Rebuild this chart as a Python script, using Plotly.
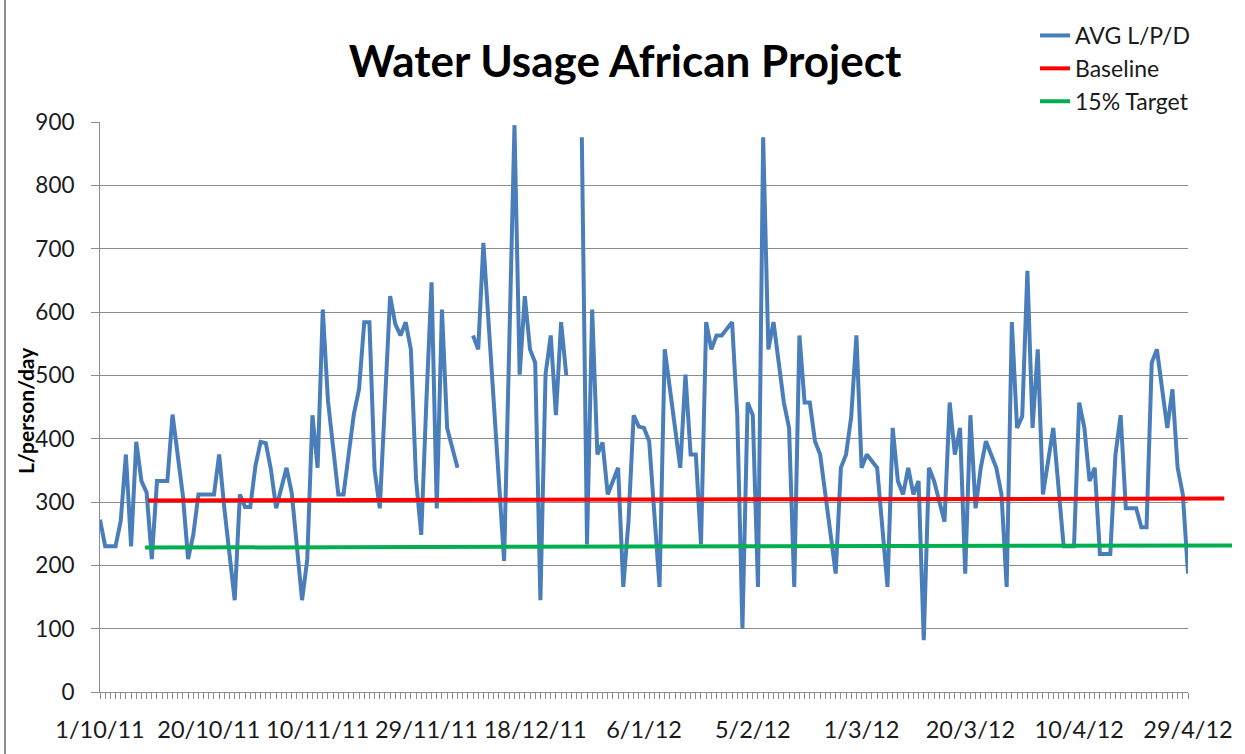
import plotly.graph_objects as go

# ---------------- data ----------------
# day index along the category axis (0 = 1/10/11 ... 210 = 29/4/12); None marks gaps
day_idx = [0, 1, 3, 4, 5, 6, 7, 8, 9, 10, 11, 13, 14, 16, 17, 18, 19, 22, 23, 24,
           26, 27, 28, 29, 30, 31, 32, 33, 34, 36, 37, 39, 40, 41, 42, 43, 44, 46, 47, 48,
           49, 50, 51, 52, 53, 54, 56, 57, 58, 59, 60, 61, 62, 63, 64, 65, 66, 67, 69,
           70,
           72, 73, 74, 78, 80, 81, 82, 83, 84, 85, 86, 87, 88, 89, 90,
           91,
           93, 94, 95, 96, 97, 98, 100, 101, 102, 103, 104, 105, 106, 108, 109, 112, 113,
           114, 115, 116, 117, 118, 119, 120, 122, 123, 124, 125, 126, 127, 128, 129, 130,
           132, 133, 134, 135, 136, 137, 138, 139, 142, 143, 144, 145, 146, 147, 148, 150,
           152, 153, 154, 155, 156, 157, 158, 159, 160, 161, 163, 164, 165, 166, 167, 168,
           169, 170, 171, 173, 174, 175, 176, 177, 178, 179, 180, 181, 182, 184, 185, 186,
           188, 189, 190, 191, 192, 193, 195, 196, 197, 198, 200, 201, 202, 203, 204, 206,
           207, 208, 209, 210]
avg_lpd = [272, 230, 230, 270, 375, 230, 395, 333, 315, 210, 333, 333, 438, 310, 210, 248, 312, 312, 375, 290,
           145, 312, 292, 292, 357, 395, 393, 351, 290, 354, 315, 145, 209, 437, 354, 604, 460, 312, 312, 378,
           439, 478, 584, 584, 351, 290, 625, 581, 563, 584, 541, 336, 248, 460, 647, 290, 604, 417, 354,
           None,
           563, 541, 709, 207, 895, 501, 625, 541, 520, 145, 502, 563, 437, 584, 500,
           None,
           876, 233, 604, 375, 394, 312, 354, 166, 269, 437, 419, 417, 396, 166, 541, 354, 501,
           375, 375, 233, 584, 541, 563, 563, 584, 437, 100, 457, 437, 166, 876, 541, 584,
           457, 417, 166, 563, 457, 457, 396, 375, 187, 354, 375, 435, 563, 354, 375, 354,
           166, 417, 333, 312, 354, 312, 333, 82, 354, 333, 269, 457, 375, 417, 187, 437,
           290, 354, 396, 354, 312, 166, 584, 417, 435, 665, 417, 541, 312, 417, 321, 230,
           230, 457, 417, 333, 354, 218, 218, 375, 437, 290, 290, 260, 260, 520, 541, 417,
           478, 354, 312, 187]

baseline_x = [9.3, 217.0]
baseline_y = [302.5, 305.5]
target_x = [8.7, 218.5]
target_y = [228, 231.5]

tick_idx = [0, 21, 42, 63, 84, 105, 126, 147, 168, 189, 210]
tick_labels = ["1/10/11", "20/10/11", "10/11/11", "29/11/11", "18/12/11", "6/1/12",
               "5/2/12", "1/3/12", "20/3/12", "10/4/12", "29/4/12"]

# ---------------- figure ----------------
W, H = 1245, 754
ML, MR, MT, MB = 100, 8, 122, 62
plot_w = W - ML - MR
plot_h = H - MT - MB
main_w = 1088
n_last = 210
main_frac = main_w / plot_w
x2_max = n_last * plot_w / main_w

FONT = "Lato"
GRID = "#8c8c8c"
TXT = "#1a1a1a"

fig = go.Figure()
fig.add_trace(go.Scatter(x=day_idx, y=avg_lpd, mode="lines", name="AVG L/P/D",
                         line=dict(color="#4A7EBB", width=4), connectgaps=False))
fig.add_trace(go.Scatter(x=baseline_x, y=baseline_y, mode="lines", name="Baseline",
                         xaxis="x2", yaxis="y2", line=dict(color="#FF0000", width=4)))
fig.add_trace(go.Scatter(x=target_x, y=target_y, mode="lines", name="15% Target",
                         xaxis="x2", yaxis="y2", line=dict(color="#00B050", width=4)))

fig.update_layout(
    width=W, height=H,
    margin=dict(l=ML, r=MR, t=MT, b=MB, autoexpand=False),
    paper_bgcolor="white", plot_bgcolor="rgba(0,0,0,0)",
    font=dict(family=FONT, color=TXT),
    title=dict(text="<b>Water Usage African Project</b>", x=625 / W, xref="container",
               y=1 - 62 / H, yref="container", yanchor="middle", xanchor="center",
               font=dict(size=44, family=FONT, color="black")),
    xaxis=dict(domain=[0, main_frac], range=[0, n_last], tickvals=tick_idx, ticktext=tick_labels,
               showgrid=False, zeroline=False, showline=True, linecolor=GRID, linewidth=1,
               ticks="outside", ticklen=6, tickcolor=GRID, ticklabelstandoff=11,
               minor=dict(dtick=1, tick0=0, ticks="outside", ticklen=6, tickcolor=GRID, showgrid=False),
               tickfont=dict(size=23.5, family=FONT, color=TXT)),
    yaxis=dict(range=[0, 900], dtick=100, showgrid=True, gridcolor=GRID, gridwidth=1,
               zeroline=False, showline=True, linecolor=GRID, linewidth=1,
               ticks="outside", ticklen=8, tickcolor=GRID, ticklabelstandoff=12,
               tickfont=dict(size=22.5, family=FONT, color=TXT)),
    xaxis2=dict(domain=[0, 1], range=[0, x2_max], visible=False, anchor="y2"),
    yaxis2=dict(domain=[0, 1], range=[0, 900], visible=False, anchor="x2", showgrid=False),
    legend=dict(x=(1035 - ML) / plot_w, y=1 + (MT - 14) / plot_h, xanchor="left", yanchor="top",
                font=dict(size=23, family=FONT, color=TXT), bgcolor="rgba(0,0,0,0)",
                tracegroupgap=0),
    showlegend=True,
)

fig.add_annotation(text="<b>L/person/day</b>", textangle=-90, x=(25 - ML) / plot_w, xref="paper",
                   y=(692 - 411) / plot_h, yref="paper", showarrow=False,
                   font=dict(size=21, family=FONT, color="black"), xanchor="center", yanchor="middle")

# outer chart frame (left edge)
fig.add_shape(type="line", xref="paper", yref="paper", x0=(5 - ML) / plot_w, x1=(5 - ML) / plot_w,
              y0=-MB / plot_h, y1=1 + MT / plot_h, line=dict(color="#8c8c8c", width=2))

fig.write_html("out.html", config={"displayModeBar": False},
               post_script="document.body.style.margin='0px';")
